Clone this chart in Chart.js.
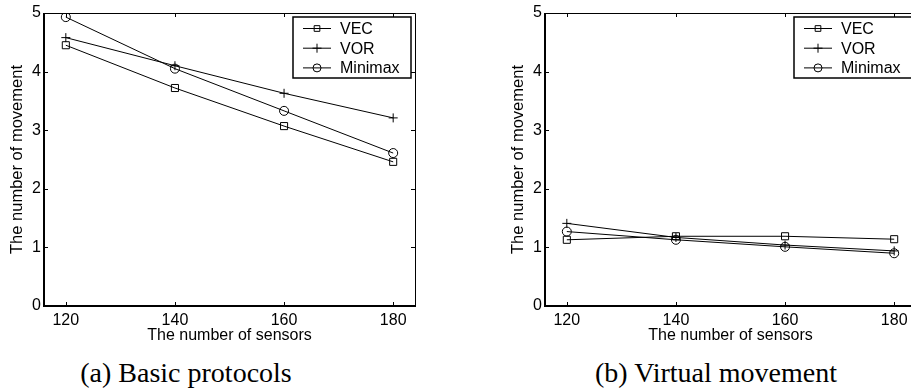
<!DOCTYPE html>
<html>
<head>
<meta charset="utf-8">
<script src="https://cdn.jsdelivr.net/npm/chart.js@4/dist/chart.umd.min.js"></script>
<style>
    html, body {
        margin: 0;
        padding: 0;
        width: 911px;
        height: 389px;
        overflow: hidden;
        background: #ffffff;
    }

    .panel {
        position: absolute;
        top: 0;
        width: 455px;
        height: 350px;
    }

    .caption {
        position: absolute;
        top: 357px;
        font-family: "Liberation Serif", "Times New Roman", serif;
        font-size: 28px;
        line-height: 32px;
        color: #000;
        white-space: nowrap;
        transform: translateX(-50%);
    }
</style>
</head>
<body>
<div class="panel" style="left: 0px;"><canvas id="chart_a" width="455" height="350"></canvas></div>
<div class="panel" style="left: 501px;"><canvas id="chart_b" width="455" height="350"></canvas></div>
<div class="caption" style="left: 186px;">(a) Basic protocols</div>
<div class="caption" style="left: 716px;">(b) Virtual movement</div>

<script>
var sensors = [120, 140, 160, 180];
var x_ticks = [120, 140, 160, 180];
var y_ticks = [0, 1, 2, 3, 4, 5];
var series_names = ["VEC", "VOR", "Minimax"];

// (a) Basic protocols
var basic_vec = [4.45, 3.72, 3.07, 2.46];
var basic_vor = [4.58, 4.10, 3.63, 3.21];
var basic_minimax = [4.93, 4.05, 3.33, 2.61];

// (b) Virtual movement
var virtual_vec = [1.13, 1.19, 1.19, 1.14];
var virtual_vor = [1.41, 1.17, 1.04, 0.94];
var virtual_minimax = [1.27, 1.13, 1.01, 0.90];

var point_styles = ["rect", "cross", "circle"];
var point_radii = [5, 4.5, 4.5];
var sans = "'Liberation Sans', Arial, Helvetica, sans-serif";

function draw_marker (ctx, style, x, y, r) {
    ctx.beginPath();

    if (style === "rect") {
        var s = r * Math.SQRT1_2;
        ctx.rect(x - s, y - s, 2 * s, 2 * s);
    }

    else if (style === "cross") {
        ctx.moveTo(x - r, y);
        ctx.lineTo(x + r, y);
        ctx.moveTo(x, y - r);
        ctx.lineTo(x, y + r);
    }

    else {
        ctx.arc(x, y, r, 0, Math.PI * 2);
    }

    ctx.stroke();
}

// Box, inward ticks and the legend, drawn on top of the lines
var frame_plugin = {
    id: "frame",
    afterDatasetsDraw: function (chart) {
        var ctx = chart.ctx;
        var area = chart.chartArea;
        var x_scale = chart.scales.x;
        var y_scale = chart.scales.y;
        var tick_len = 4;

        ctx.save();
        ctx.strokeStyle = "#000";

        // thin top and right edges
        ctx.lineWidth = 1;
        ctx.beginPath();
        ctx.moveTo(area.left, area.top + 0.5);
        ctx.lineTo(area.right + 0.5, area.top + 0.5);
        ctx.lineTo(area.right + 0.5, area.bottom);
        ctx.stroke();

        // ticks pointing into the plot
        ctx.beginPath();

        for (var i in x_ticks) {
            var px = Math.round(x_scale.getPixelForValue(x_ticks[i])) + 0.5;

            ctx.moveTo(px, area.bottom);
            ctx.lineTo(px, area.bottom - tick_len);
            ctx.moveTo(px, area.top);
            ctx.lineTo(px, area.top + tick_len);
        }

        for (var j in y_ticks) {
            var py = Math.round(y_scale.getPixelForValue(y_ticks[j])) + 0.5;

            ctx.moveTo(area.left, py);
            ctx.lineTo(area.left + tick_len, py);
            ctx.moveTo(area.right, py);
            ctx.lineTo(area.right - tick_len, py);
        }

        ctx.stroke();

        // thick left and bottom axes
        ctx.lineWidth = 2;
        ctx.beginPath();
        ctx.moveTo(area.left, area.top);
        ctx.lineTo(area.left, area.bottom);
        ctx.lineTo(area.right + 1, area.bottom);
        ctx.stroke();

        // legend box in the upper right corner
        var box_w = 118;
        var box_h = 61;
        var box_x = area.right - 4 - box_w;
        var box_y = area.top + 4;

        ctx.fillStyle = "#fff";
        ctx.fillRect(box_x, box_y, box_w, box_h);
        ctx.lineWidth = 1.5;
        ctx.strokeRect(box_x, box_y, box_w, box_h);

        ctx.font = "16px " + sans;
        ctx.fillStyle = "#000";
        ctx.textBaseline = "middle";
        ctx.textAlign = "left";
        ctx.lineWidth = 1;

        for (var k = 0; k < series_names.length; k++) {
            var row_y = box_y + 11.5 + k * 19.7;

            ctx.beginPath();
            ctx.moveTo(box_x + 10, row_y);
            ctx.lineTo(box_x + 38, row_y);
            ctx.stroke();

            draw_marker(ctx, point_styles[k], box_x + 24, row_y, k === 1 ? 4.5 : 4);

            ctx.fillText(series_names[k], box_x + 47, row_y + 1);
        }

        ctx.restore();
    }
};

function make_dataset (label, values, index) {
    return {
        "label": label,
        "data": values,
        "borderColor": "#000",
        "borderWidth": 1,
        "backgroundColor": "rgba(0,0,0,0)",
        "pointStyle": point_styles[index],
        "pointRadius": point_radii[index],
        "pointBorderWidth": 1,
        "pointBorderColor": "#000",
        "pointBackgroundColor": "rgba(0,0,0,0)",
        "tension": 0,
        "fill": false
    };
}

function make_chart (canvas_id, vec, vor, minimax) {
    var labels = sensors;

    return new Chart(document.getElementById(canvas_id).getContext("2d"), {
        "type": "line",
        "data": {
            "datasets": [
                make_dataset(series_names[0], labels.map(function (x, i) { return {"x": x, "y": vec[i]}; }), 0),
                make_dataset(series_names[1], labels.map(function (x, i) { return {"x": x, "y": vor[i]}; }), 1),
                make_dataset(series_names[2], labels.map(function (x, i) { return {"x": x, "y": minimax[i]}; }), 2)
            ]
        },
        "options": {
            "responsive": false,
            "animation": false,
            "devicePixelRatio": 1,
            "layout": {
                "padding": {"top": 13, "right": 40, "left": 0, "bottom": 0}
            },
            "scales": {
                "x": {
                    "type": "linear",
                    "min": 116,
                    "max": 184,
                    "afterBuildTicks": function (scale) {
                        scale.ticks = x_ticks.map(function (v) { return {"value": v}; });
                    },
                    "afterFit": function (scale) {
                        scale.height = 44;
                    },
                    "grid": {"display": false, "drawTicks": false},
                    "border": {"display": false},
                    "ticks": {
                        "color": "#000",
                        "padding": 5,
                        "maxRotation": 0,
                        "font": {"family": sans, "size": 16}
                    },
                    "title": {
                        "display": true,
                        "text": "The number of sensors",
                        "color": "#000",
                        "padding": {"top": 0, "bottom": 5},
                        "font": {"family": sans, "size": 16}
                    }
                },
                "y": {
                    "min": 0,
                    "max": 5,
                    "afterBuildTicks": function (scale) {
                        scale.ticks = y_ticks.map(function (v) { return {"value": v}; });
                    },
                    "afterFit": function (scale) {
                        scale.width = 44;
                    },
                    "grid": {"display": false, "drawTicks": false},
                    "border": {"display": false},
                    "ticks": {
                        "color": "#000",
                        "padding": 3,
                        "font": {"family": sans, "size": 16}
                    },
                    "title": {
                        "display": true,
                        "text": "The number of movement",
                        "color": "#000",
                        "padding": {"top": 8, "bottom": 0},
                        "font": {"family": sans, "size": 16.5}
                    }
                }
            },
            "plugins": {
                "legend": {"display": false},
                "tooltip": {"enabled": false},
                "title": {"display": false}
            }
        },
        "plugins": [frame_plugin]
    });
}

make_chart("chart_a", basic_vec, basic_vor, basic_minimax);
make_chart("chart_b", virtual_vec, virtual_vor, virtual_minimax);
</script>
</body>
</html>
